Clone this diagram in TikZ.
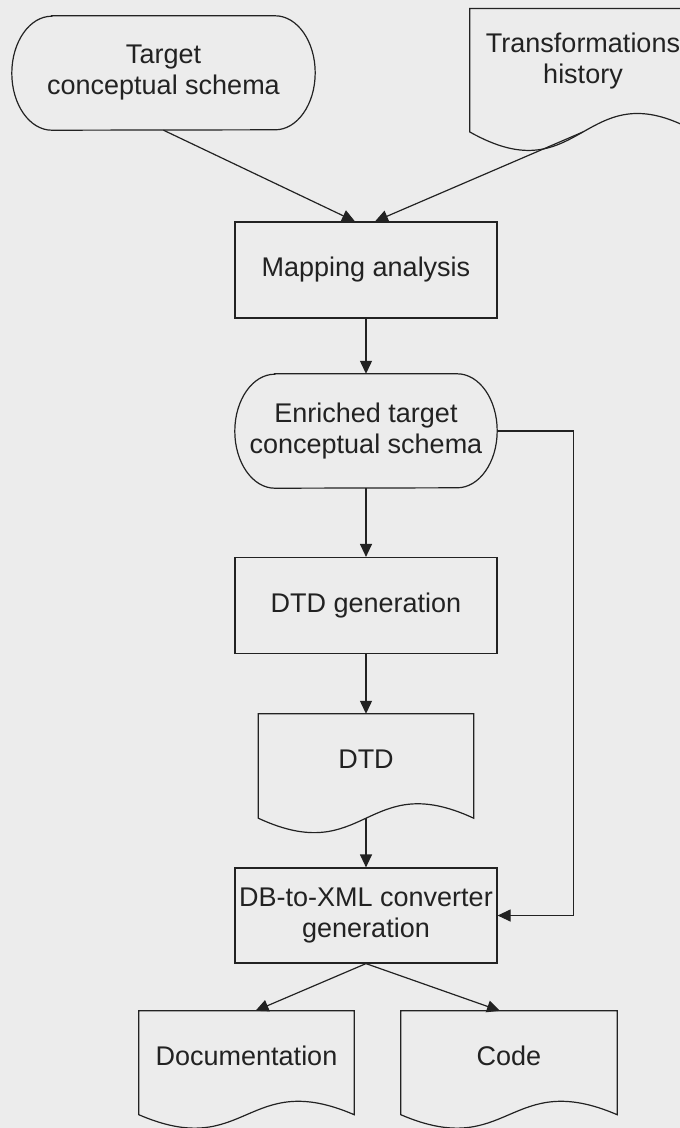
\documentclass[tikz,border=0pt]{standalone}
\usepackage{fontspec}
\setmainfont{Liberation Sans}
\usetikzlibrary{arrows.meta}
\definecolor{fons}{RGB}{236,236,236}
\definecolor{tinta}{RGB}{34,34,34}

\begin{document}
\begin{tikzpicture}[x=1pt, y=-1pt,
		every node/.style={font=\fontsize{27}{31}\selectfont, text=tinta, align=center, inner sep=0pt},
		linia/.style={draw=tinta, line width=1.2pt},
		caixa/.style={linia, minimum width=262pt, minimum height=96pt},
		fletxa/.style={draw=tinta, line width=1.2pt, -{Triangle[length=13pt, width=12pt]}}]
				\useasboundingbox (0,0) rectangle (680,1128);
				\clip (0,0) rectangle (680,1128);
				\fill[fons] (0,0) rectangle (680,1128);
				%Esquemes d'entrada
				\node[minimum width=303pt, minimum height=114pt] (tcs) at (163.5,73) {Target\\conceptual schema};
				\draw[linia] ([xshift=40pt]tcs.north west) -- ([xshift=-40pt]tcs.north east)
					arc[start angle=90, end angle=-90, x radius=40pt, y radius=57pt]
					-- ([xshift=40pt]tcs.south west)
					arc[start angle=270, end angle=90, x radius=40pt, y radius=57pt] -- cycle;
				\node[minimum width=226pt, minimum height=104.5pt] (th) at (583,61) {Transformations\\history};
				\draw[linia] (th.north west) -- (th.north east) -- ([yshift=-18.5pt]th.south east)
					.. controls ([yshift=45.5pt]th.south) and ([yshift=-82.5pt]th.south) .. ([yshift=-18.5pt]th.south west) -- cycle;
				%Analisi
				\node[caixa] (map) at (366,270) {Mapping analysis};
				\node[minimum width=262pt, minimum height=114pt] (etcs) at (366,431) {Enriched target\\conceptual schema};
				\draw[linia] ([xshift=40pt]etcs.north west) -- ([xshift=-40pt]etcs.north east)
					arc[start angle=90, end angle=-90, x radius=40pt, y radius=57pt]
					-- ([xshift=40pt]etcs.south west)
					arc[start angle=270, end angle=90, x radius=40pt, y radius=57pt] -- cycle;
				%DTD
				\node[caixa] (dtdg) at (366,605.5) {DTD generation};
				\node[minimum width=215pt, minimum height=90pt] (dtd) at (366,759) {DTD};
				\draw[linia] (dtd.north west) -- (dtd.north east) -- ([yshift=-14pt]dtd.south east)
					.. controls ([yshift=36pt]dtd.south) and ([yshift=-64pt]dtd.south) .. ([yshift=-14pt]dtd.south west) -- cycle;
				%Convertidor
				\node[caixa, minimum height=95pt] (conv) at (366,915.5) {DB-to-XML converter\\generation};
				\node[minimum width=215pt, minimum height=90pt] (doc) at (246.5,1056) {Documentation};
				\draw[linia] (doc.north west) -- (doc.north east) -- ([yshift=-13.5pt]doc.south east)
					.. controls ([yshift=33pt]doc.south) and ([yshift=-60pt]doc.south) .. ([yshift=-13.5pt]doc.south west) -- cycle;
				\node[minimum width=216pt, minimum height=90pt] (code) at (509,1056) {Code};
				\draw[linia] (code.north west) -- (code.north east) -- ([yshift=-13.5pt]code.south east)
					.. controls ([yshift=33pt]code.south) and ([yshift=-60pt]code.south) .. ([yshift=-13.5pt]code.south west) -- cycle;
				%Fletxes
				\draw[fletxa] (tcs.south) -- ([xshift=-11pt]map.north);
				\draw[fletxa] ([yshift=-18.5pt]th.south) -- ([xshift=9pt]map.north);
				\draw[fletxa] (map.south) -- (etcs.north);
				\draw[fletxa] (etcs.south) -- (dtdg.north);
				\draw[fletxa] (dtdg.south) -- (dtd.north);
				\draw[fletxa] ([yshift=-14pt]dtd.south) -- (conv.north);
				\draw[fletxa] (etcs.east) -- ++(76pt,0) |- (conv.east);
				\draw[fletxa] (conv.south) -- ([xshift=9pt]doc.north);
				\draw[fletxa] (conv.south) -- ([xshift=-9pt]code.north);
\end{tikzpicture}
\end{document}
